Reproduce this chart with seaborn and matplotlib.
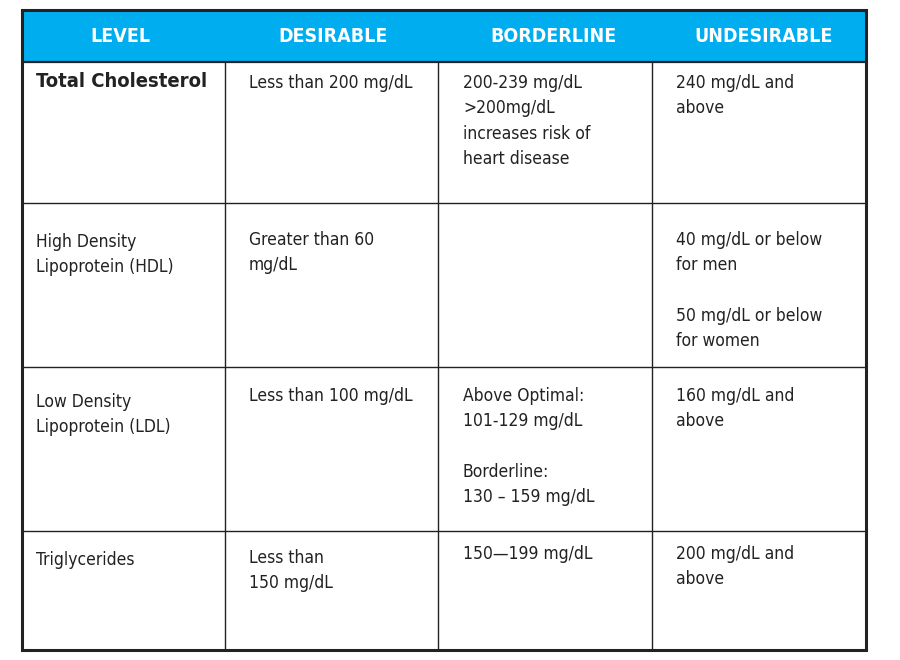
import matplotlib.pyplot as plt
import seaborn as sns
from matplotlib import font_manager

sns.set_theme(style="white")

# ── Table content ────────────────────────────────────────────────────────────
headers = ["LEVEL", "DESIRABLE", "BORDERLINE", "UNDESIRABLE"]
levels = [
    "Total Cholesterol",
    "High Density\nLipoprotein (HDL)",
    "Low Density\nLipoprotein (LDL)",
    "Triglycerides",
]
desirable = [
    "Less than 200 mg/dL",
    "Greater than 60\nmg/dL",
    "Less than 100 mg/dL",
    "Less than\n150 mg/dL",
]
borderline = [
    "200-239 mg/dL\n>200mg/dL\nincreases risk of\nheart disease",
    "",
    "Above Optimal:\n101-129 mg/dL\n\nBorderline:\n130 \u2013 159 mg/dL",
    "150\u2014199 mg/dL",
]
undesirable = [
    "240 mg/dL and\nabove",
    "40 mg/dL or below\nfor men\n\n50 mg/dL or below\nfor women",
    "160 mg/dL and\nabove",
    "200 mg/dL and\nabove",
]

# ── Layout (pixels) ──────────────────────────────────────────────────────────
col_x = [22, 225, 438, 652, 866]
row_y = [10, 62, 203, 367, 531, 650]
text_x = [36, 249, 463, 676]
header_center = [120, 333, 554, 764]
# per-row offset of first text line below the row's top line
row_pad = [{0: 10}, {0: 30, 1: 28, 3: 28}, {0: 26, 1: 20, 2: 20, 3: 20}, {0: 20, 1: 18, 2: 14, 3: 14}]
blue = "#00ADEF"

avail = {f.name for f in font_manager.fontManager.ttflist}
family = "Liberation Sans Narrow" if "Liberation Sans Narrow" in avail else "DejaVu Sans"
stretch = "condensed"

fig = plt.figure(figsize=(9, 6.6), dpi=100)
ax = fig.add_axes([0, 0, 1, 1])
ax.set_xlim(0, 900)
ax.set_ylim(660, 0)
ax.axis("off")

ax.add_patch(plt.Rectangle((col_x[0], row_y[0]), col_x[-1] - col_x[0], row_y[1] - row_y[0],
                           facecolor=blue, edgecolor="none"))
ax.add_patch(plt.Rectangle((col_x[0], row_y[0]), col_x[-1] - col_x[0], row_y[-1] - row_y[0],
                           facecolor="none", edgecolor="#222222", linewidth=2.2))
for y in row_y[1:-1]:
    ax.plot([col_x[0], col_x[-1]], [y, y], color="#222222", lw=1.6 if y == row_y[1] else 1.0)
for x in col_x[1:-1]:
    ax.plot([x, x], [row_y[1], row_y[-1]], color="#222222", lw=1.0)

for h, cx in zip(headers, header_center):
    ax.text(cx, (row_y[0] + row_y[1]) / 2 + 1, h, ha="center", va="center",
            color="white", fontsize=14, fontweight="bold", family=family, fontstretch=stretch)

columns = [levels, desirable, borderline, undesirable]
for ci, col in enumerate(columns):
    for ri, txt in enumerate(col):
        top = row_y[ri + 1] + row_pad[ri].get(ci, 12)
        bold = ci == 0 and ri == 0
        ax.text(text_x[ci], top, txt, ha="left", va="top", color="#222222",
                fontsize=14.5 if bold else 12.5, fontweight="bold" if bold else "normal",
                family=family, fontstretch=stretch, linespacing=1.52)

fig.savefig("out.png", dpi=100, facecolor="white")
